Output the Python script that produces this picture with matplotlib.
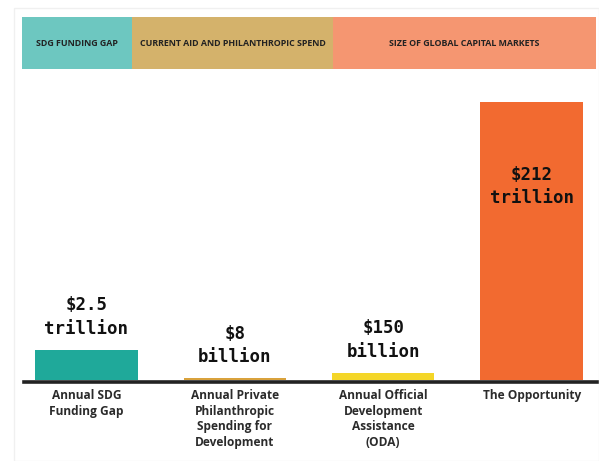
import numpy as np
import matplotlib
matplotlib.use("Agg")
import matplotlib.pyplot as plt
from matplotlib.patches import Rectangle
from matplotlib.lines import Line2D

# Annual amounts, in billions of US dollars
categories = [
    "Annual SDG\nFunding Gap",
    "Annual Private\nPhilanthropic\nSpending for\nDevelopment",
    "Annual Official\nDevelopment\nAssistance\n(ODA)",
    "The Opportunity",
]
values_bn = [2500, 8, 150, 212000]
value_labels = ["$2.5\ntrillion", "$8\nbillion", "$150\nbillion", "$212\ntrillion"]
bar_colors = ["#1fa99a", "#d9a23c", "#f4d628", "#f26a30"]

header_labels = [
    "SDG FUNDING GAP",
    "CURRENT AID AND PHILANTHROPIC SPEND",
    "SIZE OF GLOBAL CAPITAL MARKETS",
]
header_colors = ["#6dc7c0", "#d4b26b", "#f59671"]
# header band edges, in figure pixels
header_edges = [22, 132, 333, 596]

W, H = 599, 461
fig = plt.figure(figsize=(W / 100, H / 100), dpi=100)
fig.patch.set_facecolor("white")

# faint card outline behind everything
fig.add_artist(Rectangle((14 / W, 0), (W - 14) / W, (H - 8) / H,
                         transform=fig.transFigure, facecolor="white",
                         edgecolor="#f0f0f0", linewidth=1.0, zorder=0))

# coloured header band
for i, (label, color) in enumerate(zip(header_labels, header_colors)):
    x0, x1 = header_edges[i], header_edges[i + 1]
    fig.add_artist(Rectangle((x0 / W, 1 - 69 / H), (x1 - x0) / W, 52 / H,
                             transform=fig.transFigure, facecolor=color,
                             edgecolor="none", zorder=1))
    fig.text((x0 + x1) / 2 / W, 1 - 43 / H, label, ha="center", va="center",
             fontsize=6.4, fontweight="bold", color="#222222",
             family="Open Sans")

# plot area: bars stand on y=380 px, x from 24 to 597 px
base_px = 380
top_px = 90
ax = fig.add_axes([24 / W, (H - base_px) / H, (597 - 24) / W, (base_px - top_px) / H])
ax.set_yscale("function", functions=(np.sqrt, np.square))
ax.set_ylim(0, 230000)
ax.set_xlim(-0.42, 3.44)

x = np.arange(len(values_bn))
ax.bar(x, values_bn, width=0.69, color=bar_colors, zorder=2)

# dark baseline just under the bars
fig.add_artist(Line2D([24 / W, 597 / W], [(H - 382.3) / H] * 2,
                      transform=fig.transFigure, color="#222222",
                      linewidth=2.6, zorder=3))

for spine in ax.spines.values():
    spine.set_visible(False)
ax.set_xticks([])
ax.set_yticks([])
ax.patch.set_alpha(0)

# value labels: above the small bars, inside the large one
for xi, v, lab in zip(x, values_bn, value_labels):
    if v > 100000:
        ax.text(xi, 0.667, lab, transform=ax.get_xaxis_transform(),
                ha="center", va="center", fontsize=12.5, fontweight="bold",
                family="DejaVu Sans Mono", color="#111111", linespacing=1.4)
    else:
        ax.annotate(lab, (xi, v), xytext=(0, 8.5), textcoords="offset points",
                    ha="center", va="bottom", fontsize=12.5, fontweight="bold",
                    family="DejaVu Sans Mono", color="#111111",
                    linespacing=1.4)

# category names under the baseline
for xi, cat in zip(x, categories):
    ax.text(xi, -0.03, cat, transform=ax.get_xaxis_transform(),
            ha="center", va="top", fontsize=8.6, fontweight="bold",
            family="Open Sans", color="#2b2b2b", linespacing=1.28)

fig.savefig("out.png", dpi=100)
